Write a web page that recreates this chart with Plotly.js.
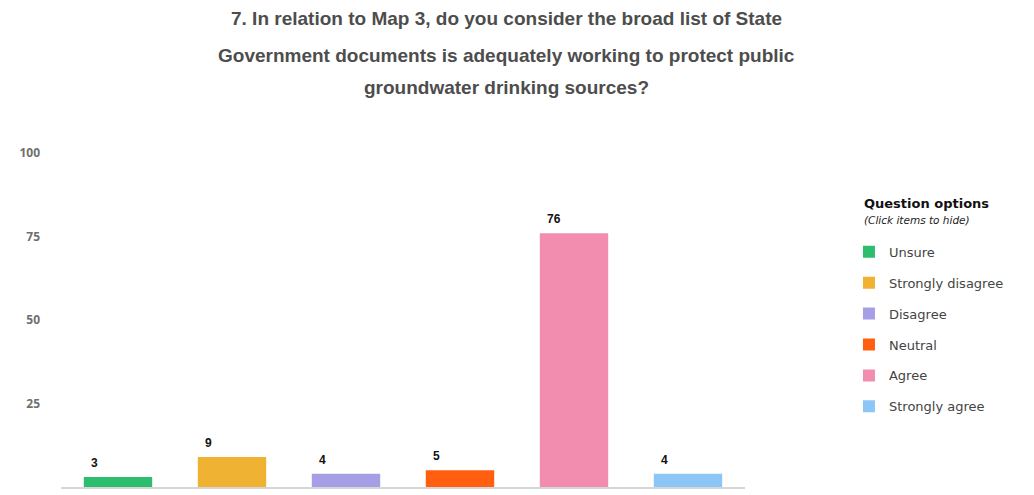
<!DOCTYPE html>
<html>
<head>
<meta charset="utf-8">
<script src="https://cdn.plot.ly/plotly-3.0.1.min.js"></script>
<style>html,body{margin:0;padding:0;background:#fff;}#chart{width:1034px;height:495px;}</style>
</head>
<body>
<div id="chart"></div>
<script>
const categories = ["Unsure", "Strongly disagree", "Disagree", "Neutral", "Agree", "Strongly agree"];
const counts = [3, 9, 4, 5, 76, 4];
const colors = ["#2dbd6e", "#f0b232", "#a69fe6", "#ff5f0f", "#f28db0", "#8cc6f7"];
const yTicks = [25, 50, 75, 100];
const titleLines = [
  "7. In relation to Map 3, do you consider the broad list of State",
  "Government documents is adequately working to protect public",
  "groundwater drinking sources?"
];
const legendHeading = "Question options";
const legendHint = "(Click items to hide)";

const traces = categories.map((c, i) => ({
  type: "bar",
  name: c,
  x: [c],
  y: [counts[i]],
  marker: {color: colors[i], line: {width: 0}},
  legendgroup: "g" + i,
  hoverinfo: "name+y"
}));

const valueLabels = categories.map((c, i) => ({
  x: c, y: counts[i], xref: "x", yref: "y",
  text: "<b>" + counts[i] + "</b>",
  showarrow: false, xanchor: "left", yanchor: "bottom",
  xshift: -29, yshift: 5,
  font: {family: "Liberation Sans, Arial, sans-serif", size: 12, color: "#111"}
}));

const titleY = [1.404, 1.293, 1.195];
const titleAnns = titleLines.map((t, i) => ({
  x: 0.6506, y: titleY[i], xref: "paper", yref: "paper",
  text: "<b>" + t + "</b>", showarrow: false, xanchor: "center", yanchor: "middle",
  font: {family: "Liberation Sans, Arial, sans-serif", size: 19, color: "#4d4d4d"}
}));

const legendAnns = [
  {x: 1.1705, y: 0.848, xref: "paper", yref: "paper", xanchor: "left", yanchor: "middle",
   text: "<b>" + legendHeading + "</b>", showarrow: false,
   font: {family: "DejaVu Sans, sans-serif", size: 13, color: "#111"}},
  {x: 1.1705, y: 0.8, xref: "paper", yref: "paper", xanchor: "left", yanchor: "middle",
   text: "<i>" + legendHint + "</i>", showarrow: false,
   font: {family: "DejaVu Sans, sans-serif", size: 10.5, color: "#222"}}
];

const layout = {
  width: 1034, height: 495,
  margin: {l: 61, r: 289, t: 153, b: 8},
  paper_bgcolor: "#fff", plot_bgcolor: "#fff",
  barmode: "overlay",
  bargap: 0.4,
  showlegend: true,
  legend: {
    x: 1.152, y: 0.749, xanchor: "left", yanchor: "top",
    font: {family: "DejaVu Sans, sans-serif", size: 13, color: "#444"},
    tracegroupgap: 11,
    itemclick: "toggle"
  },
  xaxis: {
    type: "category", categoryorder: "array", categoryarray: categories,
    showticklabels: false, ticks: "", showgrid: false, zeroline: false,
    showline: true, linecolor: "#d6d6d6", linewidth: 2
  },
  yaxis: {
    range: [0, 100], tickvals: yTicks, ticktext: yTicks.map(String),
    showgrid: false, zeroline: false, showline: false, ticks: "",
    ticklabelstandoff: 20,
    tickfont: {family: "Open Sans, Arial, sans-serif", size: 12, color: "#6f6f6f", weight: "bold"}
  },
  annotations: titleAnns.concat(legendAnns, valueLabels)
};

Plotly.newPlot("chart", traces, layout, {displayModeBar: false, responsive: false});
</script>
</body>
</html>
